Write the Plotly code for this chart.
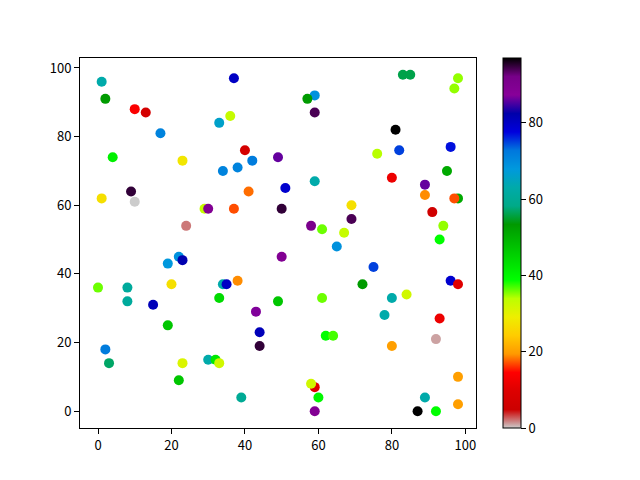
import plotly.graph_objects as go

# scatter data (x, y, colour value)
x_vals = [1, 2, 10, 13, 37, 36, 33, 17, 4, 23, 40, 42, 38, 34, 49, 1, 9, 10, 41, 29, 30, 37, 50, 24,
          83, 85, 98, 97, 59, 57, 59, 81, 82, 96, 76, 80, 95, 51, 59, 89, 89, 98, 97, 69, 69, 91,
          58, 61, 67, 94, 93, 65,
          22, 23, 19, 0, 8, 8, 20, 15, 34, 35, 38, 33, 19, 43, 44, 44, 50, 49, 2, 3, 30, 32, 33, 23,
          22, 39,
          75, 72, 61, 80, 84, 96, 98, 78, 93, 62, 64, 92, 80, 98, 59, 58, 60, 59, 89, 87, 92, 98]
y_vals = [96, 91, 88, 87, 97, 86, 84, 81, 74, 73, 76, 73, 71, 70, 74, 62, 64, 61, 64, 59, 59, 59, 59, 54,
          98, 98, 97, 94, 92, 91, 87, 82, 76, 77, 75, 68, 70, 65, 67, 66, 63, 62, 62, 60, 56, 58,
          54, 53, 52, 54, 50, 48,
          45, 44, 43, 36, 36, 32, 37, 31, 37, 37, 38, 33, 25, 29, 23, 19, 45, 32, 18, 14, 15, 15, 14, 14,
          9, 4,
          42, 37, 33, 33, 34, 38, 37, 28, 27, 22, 22, 21, 19, 10, 7, 8, 4, 0, 4, 0, 0, 2]
c_vals = [63, 53, 14, 7, 80, 33, 66, 71, 41, 28, 7, 72, 71, 71, 86, 27, 95, 0, 18, 33, 89, 17, 95, 2,
          56, 56, 35, 35, 69, 53, 94, 97, 75, 77, 34, 12, 51, 79, 63, 86, 19, 51, 17, 27, 94, 6,
          91, 36, 33, 35, 39, 69,
          69, 82, 68, 36, 61, 61, 27, 81, 63, 80, 19, 44, 47, 87, 81, 95, 89, 47, 72, 57, 63, 42, 32, 31,
          47, 60,
          75, 53, 36, 63, 32, 79, 10, 63, 12, 39, 37, 1, 20, 20, 10, 32, 40, 89, 63, 97, 39, 20]

# nipy_spectral, reversed (0 = light grey, top = black)
nipy_r = [
    [0.00, 'rgb(204,204,204)'], [0.05, 'rgb(204,0,0)'], [0.10, 'rgb(221,0,0)'],
    [0.15, 'rgb(255,0,0)'], [0.20, 'rgb(255,153,0)'], [0.25, 'rgb(255,204,0)'],
    [0.30, 'rgb(238,238,0)'], [0.35, 'rgb(187,255,0)'], [0.40, 'rgb(0,255,0)'],
    [0.45, 'rgb(0,221,0)'], [0.50, 'rgb(0,187,0)'], [0.55, 'rgb(0,153,0)'],
    [0.60, 'rgb(0,170,136)'], [0.65, 'rgb(0,170,170)'], [0.70, 'rgb(0,153,221)'],
    [0.75, 'rgb(0,119,221)'], [0.80, 'rgb(0,0,221)'], [0.85, 'rgb(0,0,170)'],
    [0.90, 'rgb(136,0,153)'], [0.95, 'rgb(119,0,136)'], [1.00, 'rgb(0,0,0)'],
]

fig = go.Figure()

fig.add_trace(go.Scatter(
    x=x_vals,
    y=y_vals,
    mode='markers',
    marker=dict(
        size=10,
        color=c_vals,
        colorscale=nipy_r,
        cmin=0,
        cmax=97,
        line=dict(width=0),
        showscale=True,
        colorbar=dict(
            x=1.067,
            xanchor='left',
            xpad=0,
            y=0.5,
            yanchor='middle',
            ypad=0,
            len=1,
            lenmode='fraction',
            thickness=18,
            outlinewidth=1,
            outlinecolor='black',
            ticks='outside',
            ticklen=5,
            tickwidth=1,
            tickcolor='black',
            tickvals=[0, 20, 40, 60, 80],
            tickfont=dict(size=13, color='black'),
        ),
    ),
    hovertemplate='x: %{x}<br>y: %{y}<br>c: %{marker.color}<extra></extra>'
))

axis_style = dict(
    showgrid=False,
    zeroline=False,
    showline=True,
    linecolor='black',
    linewidth=1,
    mirror=True,
    ticks='outside',
    ticklen=5,
    tickwidth=1,
    tickcolor='black',
    tickfont=dict(size=13, color='black'),
)

fig.update_xaxes(range=[-4.9, 102.9], tickvals=[0, 20, 40, 60, 80, 100], **axis_style)
fig.update_yaxes(range=[-4.9, 102.9], tickvals=[0, 20, 40, 60, 80, 100], **axis_style)

# page body adds an 8px offset, so margins are shifted to keep the axes in place
fig.update_layout(
    width=640,
    height=480,
    margin=dict(l=72, r=172, t=50, b=60),
    paper_bgcolor='white',
    plot_bgcolor='white',
    font=dict(family='Noto Sans CJK SC, Noto Sans, sans-serif'),
    showlegend=False,
)

fig.write_html("out.html")
